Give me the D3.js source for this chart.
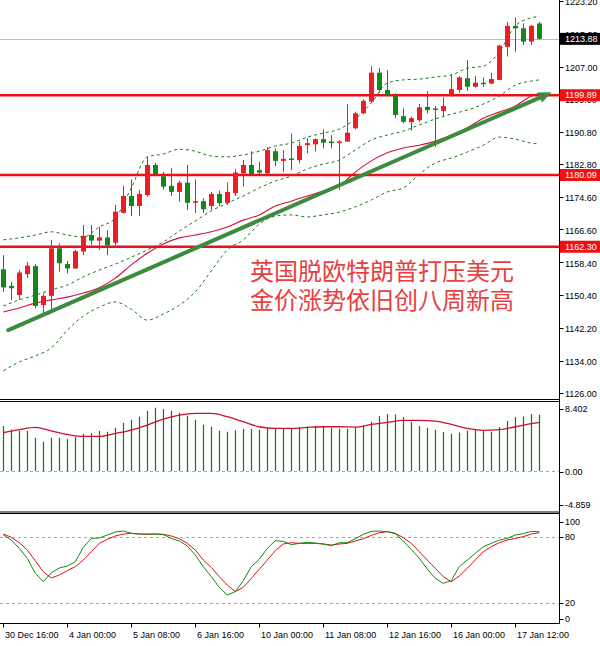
<!DOCTYPE html>
<html><head><meta charset="utf-8">
<script src="https://cdn.jsdelivr.net/npm/d3@7"></script>
<style>
body{margin:0;background:#fff}
svg{display:block}
text{font-family:"Liberation Sans",Arial,sans-serif;font-size:9px;fill:#000}
</style>
</head><body>
<svg id="c" width="600" height="646"></svg>
<script>
// ---------- DATA (4H XAUUSD candles) ----------
const openP  = [1156.7,1152.6,1150.3,1155.5,1157.5,1147.8,1150.1,1161.9,1158.0,1156.9,1161.1,1165.2,1163.8,1164.6,1163.3,1170.7,1174.9,1172.4,1175.1,1182.6,1179.8,1177.4,1175.9,1178.2,1173.2,1173.6,1172.4,1175.4,1173.2,1175.6,1180.5,1182.6,1181.3,1180.5,1186.0,1183.6,1184.2,1183.8,1187.5,1187.7,1189.0,1188.4,1188.1,1188.4,1191.7,1195.4,1198.3,1205.5,1201.2,1199.9,1194.7,1193.2,1193.7,1197.0,1196.6,1196.0,1199.9,1201.2,1204.1,1202.0,1203.0,1202.8,1203.7,1211.9,1217.1,1216.5,1213.2,1217.7];
const highP  = [1160.2,1153.6,1156.5,1158.6,1158.0,1150.7,1164.0,1163.1,1158.8,1161.5,1167.7,1167.7,1167.3,1166.4,1172.7,1177.4,1179.0,1176.4,1184.6,1183.1,1180.9,1181.8,1178.7,1182.6,1179.0,1174.3,1175.9,1176.2,1178.2,1181.5,1183.8,1186.0,1183.4,1187.0,1186.7,1186.3,1190.4,1188.4,1189.2,1189.2,1191.4,1190.0,1188.8,1197.7,1195.8,1198.9,1207.1,1206.6,1206.1,1200.4,1196.6,1194.6,1197.7,1200.9,1197.2,1199.4,1205.1,1204.7,1208.6,1204.7,1204.3,1205.5,1212.4,1218.1,1219.2,1217.7,1217.3,1218.1];
const lowP   = [1151.1,1149.1,1149.1,1154.5,1147.0,1145.8,1146.2,1156.1,1155.7,1156.8,1160.2,1162.7,1161.5,1160.2,1162.7,1170.5,1169.9,1169.9,1174.7,1179.8,1176.5,1174.9,1173.5,1171.4,1170.7,1170.7,1171.4,1172.4,1172.7,1174.9,1177.2,1179.8,1180.1,1180.1,1182.3,1180.9,1181.3,1183.0,1185.5,1185.9,1186.7,1186.7,1176.4,1188.3,1191.4,1195.2,1198.0,1200.5,1199.7,1194.2,1192.9,1191.1,1193.3,1195.4,1187.1,1194.7,1199.5,1200.5,1201.0,1201.8,1201.9,1202.7,1203.6,1209.5,1210.7,1212.4,1212.4,1213.7];
const closeP = [1152.2,1152.0,1155.9,1157.6,1147.6,1150.1,1161.9,1158.2,1156.9,1161.2,1165.0,1163.8,1164.6,1162.6,1171.0,1174.9,1172.4,1175.4,1182.6,1180.3,1177.2,1175.9,1178.2,1173.2,1173.6,1171.6,1175.4,1173.1,1175.9,1180.7,1182.6,1180.3,1180.7,1186.3,1183.6,1184.1,1184.0,1187.3,1188.0,1189.0,1188.1,1188.0,1188.4,1190.6,1195.4,1198.5,1205.5,1201.2,1199.9,1195.0,1193.3,1194.2,1196.9,1196.2,1196.4,1197.2,1201.4,1204.3,1202.0,1203.0,1202.7,1203.9,1212.2,1217.1,1216.5,1213.2,1217.1,1213.88];

// Indicator samples (candle index -> value)
const bandIdx  = [0,2,4,6,8,10,12,14,16,18,20,22,24,26,28,30,32,34,36,38,40,42,44,46,48,50,52,54,56,58,60,62,64,66,67];
const bbUpper  = [1164.0,1164.5,1165.2,1166.0,1165.2,1164.7,1167.2,1169.4,1176.9,1184.6,1185.3,1186.5,1186.0,1184.8,1184.6,1185.1,1186.0,1187.3,1188.0,1189.5,1190.5,1191.5,1194.0,1198.0,1202.9,1203.7,1203.9,1204.4,1204.9,1206.6,1207.1,1210.6,1217.1,1219.1,1219.5];
const bbMiddle = [1147.6,1149.1,1150.3,1151.6,1152.8,1154.8,1156.5,1158.0,1159.7,1161.5,1163.5,1166.2,1168.7,1171.2,1173.1,1174.9,1176.9,1178.6,1179.8,1181.6,1182.8,1183.8,1186.3,1188.8,1190.0,1191.0,1192.5,1194.0,1195.2,1196.2,1197.7,1199.7,1202.4,1203.4,1203.7];
const bbLower  = [1131.5,1133.7,1135.2,1137.2,1141.6,1145.1,1147.3,1148.6,1146.8,1144.1,1145.6,1147.8,1151.1,1156.3,1161.5,1164.0,1167.9,1169.9,1170.2,1169.7,1170.2,1170.9,1172.2,1173.9,1175.9,1176.9,1180.3,1183.1,1184.3,1185.8,1187.5,1189.5,1189.0,1188.0,1187.8];
const maRed    = [1146.1,1147.1,1148.3,1149.1,1149.8,1150.8,1152.1,1154.5,1157.8,1160.7,1163.0,1164.5,1165.2,1166.0,1167.2,1168.9,1170.2,1172.4,1173.6,1174.9,1176.1,1177.4,1180.8,1183.6,1185.6,1186.8,1187.5,1188.5,1190.0,1191.8,1194.2,1195.7,1197.2,1199.7,1200.4];

const macdHist = [5.47,5.07,4.90,4.87,4.05,3.57,4.05,4.05,3.89,4.14,4.54,4.62,4.87,4.78,5.27,5.84,6.24,6.61,7.30,7.70,7.54,7.34,7.09,6.73,6.24,5.63,5.39,4.90,4.78,4.95,5.15,5.11,5.03,5.23,5.23,5.19,5.19,5.31,5.43,5.43,5.43,5.23,5.15,5.15,5.31,5.51,6.00,6.69,6.93,6.89,6.57,6.00,5.47,5.27,5.03,4.74,4.54,4.70,4.90,5.03,4.87,4.78,5.35,6.08,6.57,6.65,6.93,6.85];
const macdSignal = [4.66,5.03,5.31,4.88,4.46,4.22,4.22,4.58,4.99,5.60,6.33,6.81,7.01,7.01,6.61,6.00,5.39,5.19,5.19,5.31,5.39,5.39,5.35,5.68,5.92,6.16,6.16,6.08,5.68,5.19,4.95,5.03,5.39,5.76,5.92];

const stochK = [82.1,77.5,70.0,60.9,47.2,39.7,47.8,52.1,53.9,57.8,70.9,79.0,79.4,82.1,84.8,85.7,83.6,83.0,83.0,83.0,82.4,79.0,76.6,72.1,63.9,53.3,44.2,34.5,27.5,30.6,40.6,53.3,60.0,70.0,76.9,76.3,73.3,74.5,75.4,74.8,73.9,72.4,75.1,75.1,78.7,82.7,85.4,85.7,85.1,83.3,76.6,69.0,60.9,51.2,42.7,38.1,40.6,53.3,59.3,65.4,71.5,74.5,77.5,79.0,82.1,83.3,85.4,85.1];
const stochD = [83.0,80.0,75.1,68.4,58.7,48.7,43.0,45.7,49.7,53.3,59.3,66.9,74.5,78.1,81.2,83.0,83.6,83.0,82.7,83.0,82.7,81.2,78.7,74.5,68.4,59.3,52.7,44.2,36.6,30.6,34.5,42.7,50.9,59.3,67.8,73.9,75.1,74.5,74.5,74.5,73.9,73.0,73.9,74.5,76.6,78.7,81.8,84.2,85.1,83.6,79.7,74.5,66.9,59.3,51.8,44.2,39.7,44.8,51.8,59.3,66.9,71.5,75.1,77.5,79.0,80.6,83.0,84.2];

const priceTicks = [1126.00,1134.00,1142.20,1150.40,1158.40,1166.60,1174.60,1182.80,1190.80,1199.00,1207.00,1215.20,1223.20];
const levelLines = [1199.89,1180.09,1162.30];
const lastPrice = 1213.88;
const macdLabels = [8.402,0.00,-4.859];
const stochLevels = [80,20];
const stochLabels = [100,80,20,0];
const timeIdx = [0,8,16,24,32,40,48,56,64];
const timeLabels = ["30 Dec 16:00","4 Jan 00:00","5 Jan 08:00","6 Jan 16:00","10 Jan 00:00","11 Jan 08:00","12 Jan 16:00","16 Jan 00:00","17 Jan 12:00"];
const trendStart = {i:0.625, p:1141.6};
const trendEnd   = {i:68.55, p:1200.6};
const titleLines = ["英国脱欧特朗普打压美元","金价涨势依旧创八周新高"];

// ---------- LAYOUT ----------
const svg = d3.select("#c");
const R = 559.5;
const P = {main:[0,399.5], macd:[401.5,512.0], stoch:[513.5,623.5]};
const x = d3.scaleLinear().domain([0,67]).range([3.3,539.3]);
const y = d3.scaleLinear().domain([1126,1223.2]).range([393,1.3]);
const ym = d3.scaleLinear().domain([-4.859,8.402]).range([511,402]);
const ys = d3.scaleLinear().domain([0,100]).range([625.3,515.3]);
const RED = "#ee1c25", GREEN = "#15871a";
const cx = i => Math.round(x(i)) + 0.5;

const defs = svg.append("defs");
Object.entries(P).forEach(([k,[t,b]])=>{
  defs.append("clipPath").attr("id","clip-"+k).append("rect")
    .attr("x",0).attr("y",t).attr("width",R).attr("height",b-t);
});

// ---------- MAIN PANEL ----------
const gm = svg.append("g").attr("clip-path","url(#clip-main)");

gm.append("line").attr("x1",0).attr("x2",R)
  .attr("y1",Math.round(y(lastPrice))+0.5).attr("y2",Math.round(y(lastPrice))+0.5)
  .attr("stroke","#bdbdbd").attr("stroke-width",1);

const bandPts = arr => bandIdx.map((i,k)=>({i, v:arr[k]}));
const bandLine = d3.line().x(d=>x(d.i)).y(d=>y(d.v)).curve(d3.curveMonotoneX);
[bbUpper,bbMiddle,bbLower].forEach(arr=>{
  gm.append("path").attr("d",bandLine(bandPts(arr))).attr("fill","none")
    .attr("stroke","#1d7a1d").attr("stroke-width",1).attr("stroke-dasharray","3,3");
});
gm.append("path").attr("d",bandLine(bandPts(maRed))).attr("fill","none")
  .attr("stroke","#d4103a").attr("stroke-width",1.1);

levelLines.forEach(v=>{
  gm.append("line").attr("x1",0).attr("x2",R).attr("y1",y(v)).attr("y2",y(v))
    .attr("stroke","#e8101a").attr("stroke-width",2.6);
});

const candles = d3.range(openP.length).map(i=>({i,o:openP[i],h:highP[i],l:lowP[i],c:closeP[i]}));
const cg = gm.selectAll("g.cd").data(candles).join("g");
cg.append("line").attr("x1",d=>cx(d.i)).attr("x2",d=>cx(d.i))
  .attr("y1",d=>y(d.h)).attr("y2",d=>y(d.l))
  .attr("stroke",d=>d.c>=d.o?RED:GREEN).attr("stroke-width",1);
cg.append("rect").attr("x",d=>cx(d.i)-2.5).attr("width",5)
  .attr("y",d=>y(Math.max(d.o,d.c)))
  .attr("height",d=>Math.max(1.5,y(Math.min(d.o,d.c))-y(Math.max(d.o,d.c))))
  .attr("fill",d=>d.c>=d.o?RED:GREEN);

// trend arrow
{
  const x1=x(trendStart.i), y1=y(trendStart.p), x2=x(trendEnd.i), y2=y(trendEnd.p);
  const ang=Math.atan2(y2-y1,x2-x1), L=13, Wd=5.5;
  const bx=x2-L*Math.cos(ang), by=y2-L*Math.sin(ang);
  gm.append("line").attr("x1",x1).attr("y1",y1).attr("x2",bx).attr("y2",by)
    .attr("stroke","#3d8c3d").attr("stroke-width",4).attr("stroke-linecap","round");
  const pts=[[x2,y2],[bx+Wd*Math.sin(ang),by-Wd*Math.cos(ang)],[bx-Wd*Math.sin(ang),by+Wd*Math.cos(ang)]];
  gm.append("polygon").attr("points",pts.map(p=>p.join(",")).join(" ")).attr("fill","#3d8c3d");
}

// chinese title
titleLines.forEach((t,k)=>{
  svg.append("text").attr("x",250).attr("y",280+k*29).text(t)
    .style("font-family",'"Noto Sans CJK SC",sans-serif').style("font-size","24px")
    .style("fill","#e8403f");
});

// ---------- MACD PANEL ----------
const gd = svg.append("g").attr("clip-path","url(#clip-macd)");
gd.append("line").attr("x1",0).attr("x2",R).attr("y1",Math.round(ym(0))+0.5).attr("y2",Math.round(ym(0))+0.5)
  .attr("stroke","#a8a8a8").attr("stroke-dasharray","3,3");
gd.selectAll("line.h").data(macdHist).join("line")
  .attr("x1",(d,i)=>cx(i)).attr("x2",(d,i)=>cx(i))
  .attr("y1",ym(0)).attr("y2",d=>ym(d))
  .attr("stroke","#107a10").attr("stroke-width",1.2);
gd.append("path").attr("d",d3.line().x(d=>x(d.i)).y(d=>ym(d.v)).curve(d3.curveMonotoneX)(bandIdx.map((i,k)=>({i,v:macdSignal[k]}))))
  .attr("fill","none").attr("stroke","#cc1030").attr("stroke-width",1.3);

// ---------- STOCH PANEL ----------
const gs = svg.append("g").attr("clip-path","url(#clip-stoch)");
stochLevels.forEach(v=>{
  gs.append("line").attr("x1",0).attr("x2",R).attr("y1",Math.round(ys(v))+0.5).attr("y2",Math.round(ys(v))+0.5)
    .attr("stroke","#a8a8a8").attr("stroke-dasharray","3,3");
});
const sl = d3.line().x((d,i)=>x(i)).y(d=>ys(d));
gs.append("path").attr("d",sl(stochD)).attr("fill","none").attr("stroke","#e0101e").attr("stroke-width",1);
gs.append("path").attr("d",sl(stochK)).attr("fill","none").attr("stroke","#108a10").attr("stroke-width",1);

// ---------- FRAMES (horizontal separators + right edge) ----------
[P.main[1], P.macd[0], P.macd[1], P.stoch[0], P.stoch[1]].forEach(v=>{
  svg.append("line").attr("x1",0).attr("x2",R).attr("y1",v).attr("y2",v).attr("stroke","#000");
});
svg.append("line").attr("x1",R).attr("x2",R).attr("y1",0).attr("y2",P.stoch[1]).attr("stroke","#000");

// ---------- RIGHT AXES ----------
const tx = 565;
priceTicks.forEach(v=>{
  const yy=Math.round(y(v))+0.5;
  svg.append("line").attr("x1",R).attr("x2",R+4).attr("y1",yy).attr("y2",yy).attr("stroke","#000");
  svg.append("text").attr("x",tx).attr("y",y(v)+1).attr("dy","0.35em").text(v.toFixed(2));
});
function tag(v,bg){
  const yy=y(v);
  svg.append("rect").attr("x",R+0.5).attr("y",yy-6).attr("width",600-R).attr("height",12).attr("fill",bg);
  svg.append("text").attr("x",tx).attr("y",yy).attr("dy","0.35em").text(v.toFixed(2)).style("fill","#fff");
}
levelLines.forEach(v=>tag(v,"#ee1111"));
tag(lastPrice,"#000");

const macdLabelY = [ym(macdLabels[0])+7, ym(0)+1, ym(macdLabels[2])-6];
macdLabels.forEach((v,k)=>{
  svg.append("line").attr("x1",R).attr("x2",R+4).attr("y1",Math.round(macdLabelY[k])+0.5).attr("y2",Math.round(macdLabelY[k])+0.5).attr("stroke","#000");
  svg.append("text").attr("x",tx).attr("y",macdLabelY[k]).attr("dy","0.35em")
    .text(v===0?"0.00":v.toString());
});
const stochLabelY = v => v===100 ? ys(100)+6.5 : v===0 ? ys(0)-6.5 : ys(v);
stochLabels.forEach(v=>{
  svg.append("line").attr("x1",R).attr("x2",R+4).attr("y1",Math.round(stochLabelY(v))+0.5).attr("y2",Math.round(stochLabelY(v))+0.5).attr("stroke","#000");
  svg.append("text").attr("x",tx).attr("y",stochLabelY(v)).attr("dy","0.35em").text(v);
});

// ---------- TIME AXIS ----------
timeIdx.forEach((i,k)=>{
  svg.append("line").attr("x1",cx(i)).attr("x2",cx(i)).attr("y1",P.stoch[1]).attr("y2",P.stoch[1]+4).attr("stroke","#000");
  svg.append("text").attr("x",cx(i)+1.5).attr("y",637.5).text(timeLabels[k]);
});
</script>
</body></html>
